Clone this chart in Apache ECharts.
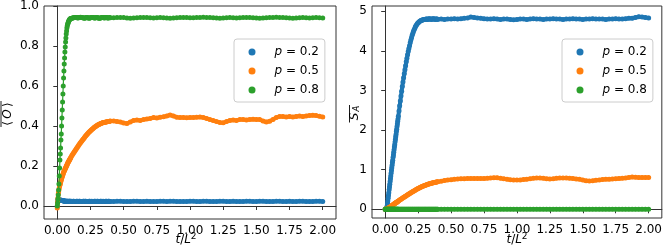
<!DOCTYPE html>
<html>
<head>
<meta charset="utf-8">
<script src="https://cdn.jsdelivr.net/npm/echarts@6/dist/echarts.min.js"></script>
<style>html,body{margin:0;padding:0;background:#fff}#c{width:665px;height:252px}</style>
</head>
<body>
<div id="c"></div>
<script>
// shared time grid t/L^2
const t = [
0,0.0025,0.005,0.0075,0.01,0.0125,0.015,0.0175,0.02,0.0225,
0.025,0.0275,0.03,0.0325,0.035,0.0375,0.04,0.0425,0.045,0.0475,
0.05,0.0525,0.055,0.0575,0.06,0.0625,0.065,0.0675,0.07,0.0725,
0.075,0.0775,0.08,0.0825,0.085,0.0875,0.09,0.0925,0.095,0.0975,
0.1,
0.105,0.11,0.115,0.12,0.125,0.13,0.135,0.14,0.145,0.15,
0.155,0.16,0.165,0.17,0.175,0.18,0.185,0.19,0.195,0.2,
0.205,0.21,0.215,0.22,0.225,0.23,0.235,0.24,0.245,0.25,
0.255,0.26,0.265,0.27,0.275,0.28,0.285,0.29,0.295,0.3,
0.305,0.31,0.315,0.32,0.325,0.33,0.335,0.34,0.345,0.35,
0.355,0.36,0.365,0.37,0.375,0.38,0.385,0.39,0.395,0.4,
0.425,0.45,0.475,0.5,0.525,0.55,0.575,0.6,
0.625,0.65,0.675,0.7,0.725,0.75,0.775,0.8,
0.825,0.85,0.875,0.9,0.925,0.95,0.975,1.0,
1.025,1.05,1.075,1.1,1.125,1.15,1.175,1.2,
1.225,1.25,1.275,1.3,1.325,1.35,1.375,1.4,
1.425,1.45,1.475,1.5,1.525,1.55,1.575,1.6,
1.625,1.65,1.675,1.7,1.725,1.75,1.775,1.8,
1.825,1.85,1.875,1.9,1.925,1.95,1.975,2.0
];

// left panel: <O>
const leftBlue = [
-0.003,0.02,0.03,0.032,0.031,0.03,0.029,0.03,0.031,0.03,
0.029,0.028,0.028,0.029,0.028,0.027,0.027,0.026,0.026,0.025,
0.025,0.025,0.024,0.024,0.025,0.024,0.024,0.023,0.024,0.024,
0.023,0.024,0.024,0.023,0.023,0.024,0.024,0.023,0.024,0.024,
0.023,
0.024,0.023,0.023,0.024,0.024,0.023,0.022,0.023,0.024,0.024,
0.023,0.023,0.024,0.024,0.023,0.022,0.023,0.023,0.024,0.024,
0.023,0.024,0.024,0.023,0.023,0.022,0.023,0.024,0.024,0.023,
0.023,0.024,0.023,0.022,0.023,0.024,0.024,0.023,0.023,0.024,
0.024,0.023,0.022,0.023,0.024,0.024,0.023,0.023,0.024,0.023,
0.022,0.023,0.024,0.024,0.023,0.023,0.024,0.024,0.023,0.023,
0.023,0.024,0.024,0.023,0.022,0.023,0.024,0.024,
0.023,0.023,0.024,0.023,0.022,0.023,0.024,0.024,
0.023,0.024,0.024,0.023,0.023,0.022,0.023,0.024,
0.024,0.023,0.023,0.024,0.024,0.023,0.022,0.023,
0.024,0.024,0.023,0.023,0.024,0.023,0.022,0.023,
0.024,0.024,0.023,0.023,0.024,0.024,0.023,0.022,
0.023,0.024,0.024,0.023,0.023,0.024,0.023,0.023,
0.024,0.024,0.023,0.022,0.023,0.024,0.024,0.023
];
const leftOrange = [
-0.01,0.02,0.04,0.06,0.07,0.08,0.09,0.10,0.105,0.11,
0.118,0.125,0.13,0.137,0.143,0.148,0.153,0.158,0.163,0.167,
0.172,0.175,0.179,0.183,0.187,0.19,0.194,0.198,0.201,0.205,
0.208,0.212,0.216,0.219,0.222,0.225,0.228,0.231,0.234,0.237,
0.24,
0.246,0.252,0.258,0.263,0.268,0.273,0.278,0.283,0.288,0.293,
0.297,0.302,0.307,0.312,0.316,0.321,0.325,0.33,0.334,0.338,
0.342,0.347,0.351,0.355,0.359,0.363,0.366,0.37,0.373,0.376,
0.379,0.382,0.385,0.388,0.391,0.394,0.396,0.398,0.401,0.403,
0.405,0.407,0.408,0.41,0.412,0.413,0.414,0.416,0.417,0.418,
0.418,0.419,0.42,0.42,0.421,0.422,0.422,0.423,0.424,0.425,
0.425,0.423,0.42,0.415,0.413,0.42,0.428,0.43,
0.428,0.432,0.435,0.438,0.442,0.44,0.444,0.446,
0.45,0.455,0.45,0.444,0.443,0.442,0.441,0.443,
0.442,0.444,0.445,0.443,0.438,0.432,0.427,0.422,
0.418,0.416,0.422,0.428,0.43,0.428,0.432,0.433,
0.43,0.433,0.434,0.433,0.432,0.425,0.42,0.424,
0.433,0.442,0.448,0.447,0.445,0.447,0.445,0.448,
0.45,0.447,0.45,0.453,0.454,0.452,0.449,0.445
];
const leftGreen = [
0.0,0.015,0.035,0.055,0.08,0.11,0.15,0.19,0.23,0.26,
0.29,0.33,0.36,0.40,0.44,0.48,0.52,0.56,0.60,0.64,
0.675,0.71,0.74,0.77,0.795,0.82,0.84,0.86,0.875,0.89,
0.90,0.907,0.913,0.918,0.922,0.926,0.929,0.932,0.934,0.936,
0.937,
0.938,0.939,0.940,0.941,0.941,0.942,0.942,0.943,0.942,0.941,
0.940,0.941,0.942,0.943,0.944,0.943,0.942,0.941,0.941,0.940,
0.939,0.940,0.941,0.942,0.942,0.941,0.940,0.939,0.940,0.941,
0.942,0.943,0.943,0.942,0.941,0.940,0.940,0.941,0.942,0.942,
0.941,0.940,0.939,0.939,0.940,0.941,0.942,0.943,0.942,0.941,
0.940,0.941,0.942,0.942,0.941,0.940,0.940,0.941,0.942,0.941,
0.941,0.942,0.943,0.942,0.940,0.939,0.940,0.941,
0.942,0.943,0.942,0.941,0.940,0.941,0.942,0.941,
0.940,0.939,0.940,0.941,0.942,0.943,0.942,0.941,
0.941,0.942,0.943,0.944,0.943,0.942,0.941,0.940,
0.939,0.940,0.941,0.942,0.941,0.940,0.941,0.942,
0.943,0.942,0.941,0.940,0.939,0.940,0.941,0.942,
0.943,0.944,0.943,0.942,0.941,0.940,0.939,0.940,
0.941,0.942,0.941,0.940,0.941,0.942,0.941,0.940
];

// right panel: S_A
const rightBlue = [
0,0,0,0,0,0.03,0.08,0.14,0.21,0.28,
0.35,0.42,0.49,0.56,0.63,0.70,0.77,0.84,0.91,0.98,
1.05,1.11,1.18,1.24,1.31,1.37,1.44,1.5,1.57,1.63,
1.7,1.76,1.83,1.89,1.96,2.02,2.09,2.15,2.22,2.28,
2.35,
2.48,2.61,2.73,2.86,2.98,3.1,3.21,3.32,3.42,3.52,
3.62,3.72,3.81,3.9,3.98,4.06,4.13,4.2,4.27,4.33,
4.39,4.44,4.49,4.53,4.57,4.61,4.64,4.66,4.69,4.71,
4.72,4.74,4.75,4.76,4.77,4.77,4.78,4.78,4.79,4.79,
4.79,4.8,4.8,4.79,4.8,4.8,4.81,4.8,4.8,4.79,
4.8,4.8,4.81,4.8,4.8,4.79,4.8,4.8,4.8,4.79,
4.8,4.79,4.8,4.8,4.81,4.8,4.81,4.82,
4.83,4.85,4.84,4.83,4.82,4.81,4.8,4.8,
4.81,4.8,4.79,4.8,4.8,4.79,4.78,4.79,
4.8,4.8,4.79,4.8,4.81,4.8,4.8,4.79,
4.8,4.8,4.81,4.8,4.8,4.79,4.8,4.8,
4.81,4.8,4.8,4.79,4.8,4.8,4.81,4.8,
4.8,4.8,4.79,4.8,4.8,4.81,4.8,4.8,
4.81,4.82,4.82,4.84,4.86,4.85,4.84,4.83
];
const rightOrange = [
0,0.003,0.006,0.009,0.012,0.015,0.018,0.021,0.024,0.027,
0.03,0.036,0.042,0.048,0.054,0.06,0.066,0.072,0.078,0.084,
0.09,0.096,0.102,0.108,0.114,0.12,0.126,0.132,0.138,0.144,
0.15,0.156,0.162,0.168,0.174,0.18,0.186,0.192,0.198,0.204,
0.21,
0.222,0.233,0.244,0.255,0.266,0.277,0.288,0.299,0.31,0.32,
0.331,0.342,0.353,0.364,0.375,0.386,0.396,0.407,0.417,0.427,
0.437,0.447,0.457,0.467,0.477,0.487,0.497,0.506,0.515,0.524,
0.533,0.542,0.55,0.558,0.566,0.574,0.581,0.588,0.595,0.602,
0.608,0.614,0.62,0.626,0.632,0.637,0.642,0.647,0.652,0.657,
0.661,0.665,0.669,0.673,0.677,0.681,0.685,0.689,0.693,0.697,
0.71,0.725,0.738,0.748,0.756,0.762,0.768,0.772,
0.775,0.776,0.775,0.776,0.778,0.777,0.782,0.79,
0.798,0.795,0.782,0.768,0.758,0.748,0.742,0.737,
0.742,0.75,0.76,0.77,0.78,0.79,0.792,0.782,
0.768,0.762,0.77,0.78,0.79,0.792,0.79,0.786,
0.776,0.766,0.755,0.738,0.718,0.714,0.722,0.733,
0.742,0.75,0.755,0.76,0.765,0.77,0.775,0.78,
0.79,0.805,0.815,0.81,0.805,0.8,0.8,0.8
];
const rightGreen = [
0,0,0,0,0,0,0,0,0,0,
0,0,0,0,0,0,0,0,0,0,
0,0,0,0,0,0,0,0,0,0,
0,0,0,0,0,0,0,0,0,0,
0,
0,0,0,0,0,0,0,0,0,0,
0,0,0,0,0,0,0,0,0,0,
0,0,0,0,0,0,0,0,0,0,
0,0,0,0,0,0,0,0,0,0,
0,0,0,0,0,0,0,0,0,0,
0,0,0,0,0,0,0,0,0,0,
0,0,0,0,0,0,0,0,
0,0,0,0,0,0,0,0,
0,0,0,0,0,0,0,0,
0,0,0,0,0,0,0,0,
0,0,0,0,0,0,0,0,
0,0,0,0,0,0,0,0,
0,0,0,0,0,0,0,0,
0,0,0,0,0,0,0,0
];

const seriesNames = ['p = 0.2', 'p = 0.5', 'p = 0.8'];
const colors = ['#1f77b4', '#ff7f0e', '#2ca02c'];
const xTicks = [0, 0.25, 0.5, 0.75, 1.0, 1.25, 1.5, 1.75, 2.0];
const yTicksLeft = [0, 0.2, 0.4, 0.6, 0.8, 1.0];
const yTicksRight = [0, 1, 2, 3, 4, 5];

const FONT = 'DejaVu Sans';
const pairs = ys => t.map((x, i) => [x, ys[i]]);

function xAxis(gi) {
  return {
    type: 'value', gridIndex: gi, min: -0.1, max: 2.1,
    axisLine: { show: true, lineStyle: { color: '#333', width: 1 } },
    axisTick: { show: true, length: 4, customValues: xTicks, lineStyle: { color: '#333' } },
    axisLabel: { customValues: xTicks, margin: 6, color: '#000', fontFamily: FONT, fontSize: 12,
      formatter: v => v.toFixed(2) },
    splitLine: { show: false }
  };
}
function yAxis(gi, min, max, ticks, dec) {
  return {
    type: 'value', gridIndex: gi, min: min, max: max,
    axisLine: { show: true, lineStyle: { color: '#333', width: 1 } },
    axisTick: { show: true, length: 4, customValues: ticks, lineStyle: { color: '#333' } },
    axisLabel: { customValues: ticks, margin: 5, color: '#000', fontFamily: FONT, fontSize: 12,
      formatter: v => v.toFixed(dec) },
    splitLine: { show: false }
  };
}
function mkSeries(gi, arrs) {
  return arrs.map((ys, k) => {
    const thin = (gi === 0 && k === 2);
    return {
      type: 'line', name: seriesNames[k], xAxisIndex: gi, yAxisIndex: gi,
      data: pairs(ys), symbol: 'circle', symbolSize: 5, showAllSymbol: true,
      itemStyle: { color: colors[k] },
      lineStyle: { color: colors[k], width: thin ? 1.2 : 4, cap: 'round', join: 'round' },
      silent: true, z: 2 + k, animation: false
    };
  });
}
function legend(left) {
  return {
    left: left, top: 39, orient: 'vertical', data: seriesNames,
    icon: 'circle', itemWidth: 7, itemHeight: 7, itemGap: 5,
    padding: [6, 6, 5, 14.5], backgroundColor: 'rgba(255,255,255,0.8)',
    borderColor: '#cccccc', borderWidth: 1, borderRadius: 3, selectedMode: false,
    formatter: n => '{i|p} = ' + n.split('= ')[1],
    textStyle: { fontFamily: FONT, fontSize: 12, color: '#000', lineHeight: 14, padding: [0, 0, 0, 14],
      rich: { i: { fontFamily: FONT, fontSize: 12, fontStyle: 'italic', color: '#000', lineHeight: 14 } } }
  };
}
const richLabel = {
  i: { fontFamily: FONT, fontSize: 12, fontStyle: 'italic', fill: '#000', lineHeight: 16 },
  n: { fontFamily: FONT, fontSize: 12, fill: '#000', lineHeight: 16 },
  s: { fontFamily: FONT, fontSize: 9, fill: '#000', lineHeight: 9, verticalAlign: 'top' }
};

const chart = echarts.init(document.getElementById('c'), null, { renderer: 'canvas' });
chart.setOption({
  animation: false,
  backgroundColor: '#fff',
  grid: [
    { left: 44, top: 6, width: 292, height: 213, show: true, borderColor: '#333', borderWidth: 1, backgroundColor: 'transparent' },
    { left: 372, top: 6, width: 290, height: 212, show: true, borderColor: '#333', borderWidth: 1, backgroundColor: 'transparent' }
  ],
  xAxis: [xAxis(0), xAxis(1)],
  yAxis: [yAxis(0, -0.065, 1.0, yTicksLeft, 1), yAxis(1, -0.22, 5.13, yTicksRight, 0)],
  legend: [legend(234), legend(562)],
  series: [].concat(
    mkSeries(0, [leftBlue, leftOrange, leftGreen]),
    mkSeries(1, [rightBlue, rightOrange, rightGreen])
  ),
  graphic: [
    { type: 'text', x: 186, y: 232,
      style: { text: '{i|t}{n|/}{i|L}{s|2}', rich: richLabel, align: 'center', textAlign: 'center', verticalAlign: 'top', textVerticalAlign: 'top' } },
    { type: 'text', x: 517, y: 232,
      style: { text: '{i|t}{n|/}{i|L}{s|2}', rich: richLabel, align: 'center', textAlign: 'center', verticalAlign: 'top', textVerticalAlign: 'top' } },
    { type: 'group', x: 7.5, y: 114, rotation: Math.PI / 2, children: [
      { type: 'text', x: 0, y: 0, style: { text: '\u27E8\u2009{i|O}\u2009\u27E9', rich: richLabel, font: '12px "DejaVu Sans"', fill: '#000',
        align: 'center', textAlign: 'center', verticalAlign: 'middle', textVerticalAlign: 'middle' } },
      { type: 'line', shape: { x1: -13, y1: -6.5, x2: 13, y2: -6.5 }, style: { stroke: '#000', lineWidth: 0.9 } }
    ] },
    { type: 'group', x: 355, y: 114, rotation: Math.PI / 2, children: [
      { type: 'text', x: -2.5, y: 0, style: { text: 'S', font: 'italic 12px "DejaVu Sans"', fill: '#000',
        align: 'center', textAlign: 'center', verticalAlign: 'middle', textVerticalAlign: 'middle' } },
      { type: 'text', x: 5.5, y: 2, style: { text: 'A', font: 'italic 8.5px "DejaVu Sans"', fill: '#000',
        align: 'center', textAlign: 'center', verticalAlign: 'middle', textVerticalAlign: 'middle' } },
      { type: 'line', shape: { x1: -8.5, y1: -5.5, x2: 9, y2: -5.5 }, style: { stroke: '#000', lineWidth: 0.9 } }
    ] }
  ]
});
</script>
</body>
</html>
